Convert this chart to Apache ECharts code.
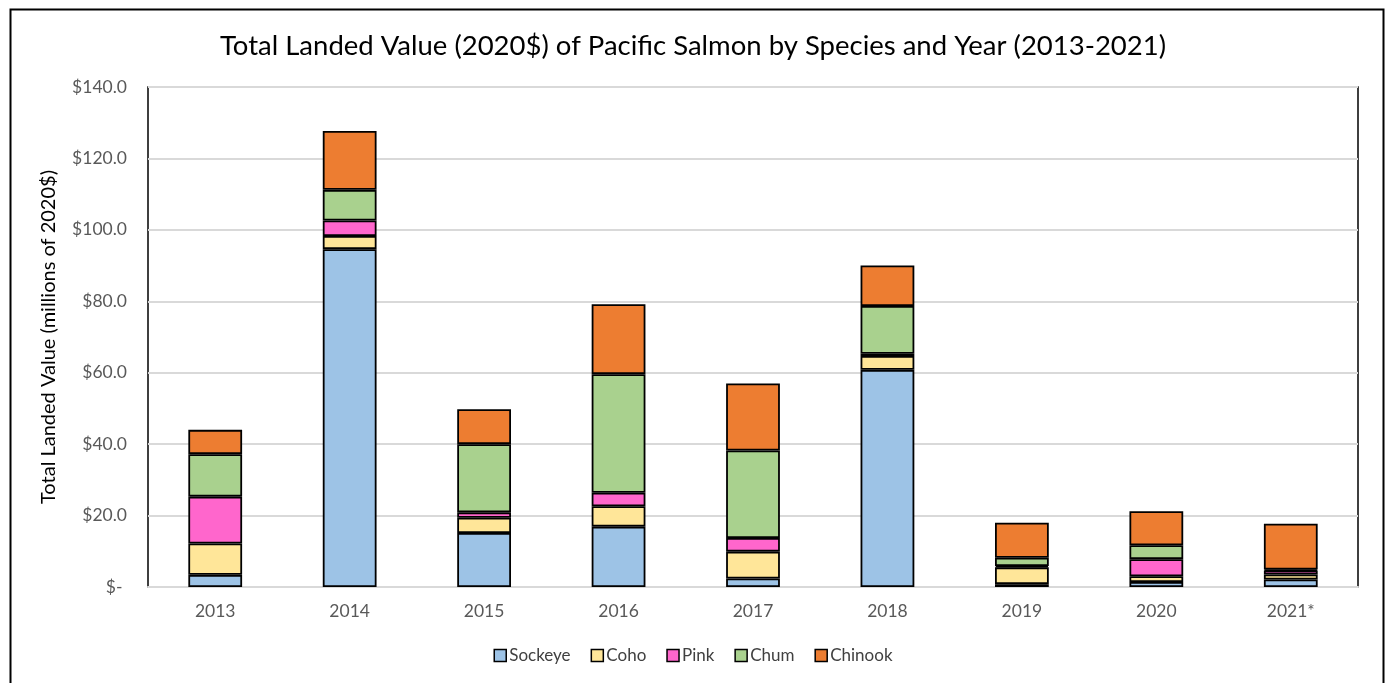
<!DOCTYPE html>
<html><head><meta charset="utf-8">
<script src="https://cdn.jsdelivr.net/npm/echarts@6/dist/echarts.min.js"></script>
<style>html,body{margin:0;padding:0;background:#fff}#c{width:1386px;height:683px}</style>
</head><body><div id="c"></div>
<script>
const years = ['2013','2014','2015','2016','2017','2018','2019','2020','2021*'];
const sockeye = [3.4, 94.6, 15.1, 16.9, 2.4, 60.8, 0.8, 1.4, 2.1];
const coho    = [8.8, 3.7, 4.3, 5.7, 7.5, 3.9, 4.7, 1.6, 1.4];
const pink    = [13.1, 4.3, 1.5, 3.8, 3.8, 0.6, 0.4, 4.8, 1.1];
const chum    = [11.9, 8.6, 19.1, 33.2, 24.5, 13.4, 2.3, 3.9, 0.3];
const chinook = [6.8, 16.5, 9.8, 19.6, 18.8, 11.3, 9.8, 9.5, 12.8];
const seriesNames = ['Sockeye','Coho','Pink','Chum','Chinook'];
const colors = ['#9DC3E6','#FFE699','#FF66CC','#A9D18E','#ED7D31'];
const data = [sockeye, coho, pink, chum, chinook];
const font = 'Lato, "Open Sans", sans-serif';

const chart = echarts.init(document.getElementById('c'));
chart.setOption({
  animation: false,
  textStyle: {fontFamily: font},
  title: {
    text: 'Total Landed Value (2020$) of Pacific Salmon by Species and Year (2013-2021)',
    left: 'center', top: 27,
    textStyle: {fontFamily: font, fontSize: 27.5, fontWeight: 'normal', color: '#000'}
  },
  graphic: [{
    type: 'rect', left: 8, top: 7, silent: true,
    shape: {width: 1373, height: 700},
    style: {fill: 'none', stroke: '#000', lineWidth: 2}
  }],
  legend: {
    bottom: 14, left: 'center',
    icon: 'rect', itemWidth: 12, itemHeight: 12, itemGap: 20,
    itemStyle: {borderColor: '#000', borderWidth: 1.5},
    textStyle: {fontFamily: font, fontSize: 17, color: '#404040', padding: [0,0,0,-2]},
    data: seriesNames
  },
  grid: {left: 148, right: 28, top: 87, bottom: 96, show: true, borderColor: '#000', borderWidth: 1.5, backgroundColor: 'transparent'},
  xAxis: {
    type: 'category', data: years,
    axisLine: {lineStyle: {color: '#D9D9D9', width: 2}},
    axisTick: {show: false},
    axisLabel: {fontFamily: font, fontSize: 17.5, color: '#595959', margin: 15}
  },
  yAxis: {
    type: 'value', min: 0, max: 140, interval: 20,
    name: 'Total Landed Value (millions of 2020$)',
    nameLocation: 'middle', nameGap: 89, nameRotate: 90,
    nameTextStyle: {fontFamily: font, fontSize: 20, color: '#000'},
    axisLine: {show: false}, axisTick: {show: false},
    splitLine: {lineStyle: {color: '#D9D9D9', width: 2}},
    axisLabel: {
      fontFamily: font, fontSize: 17.5, color: '#595959', margin: 21,
      formatter: v => v === 0 ? '$- ' : '$' + v.toFixed(1)
    }
  },
  series: data.map((d, i) => ({
    name: seriesNames[i], type: 'bar', stack: 'total', data: d,
    barWidth: '40%',
    itemStyle: {color: colors[i], borderColor: '#000', borderWidth: 1.8}
  }))
});
</script></body></html>
